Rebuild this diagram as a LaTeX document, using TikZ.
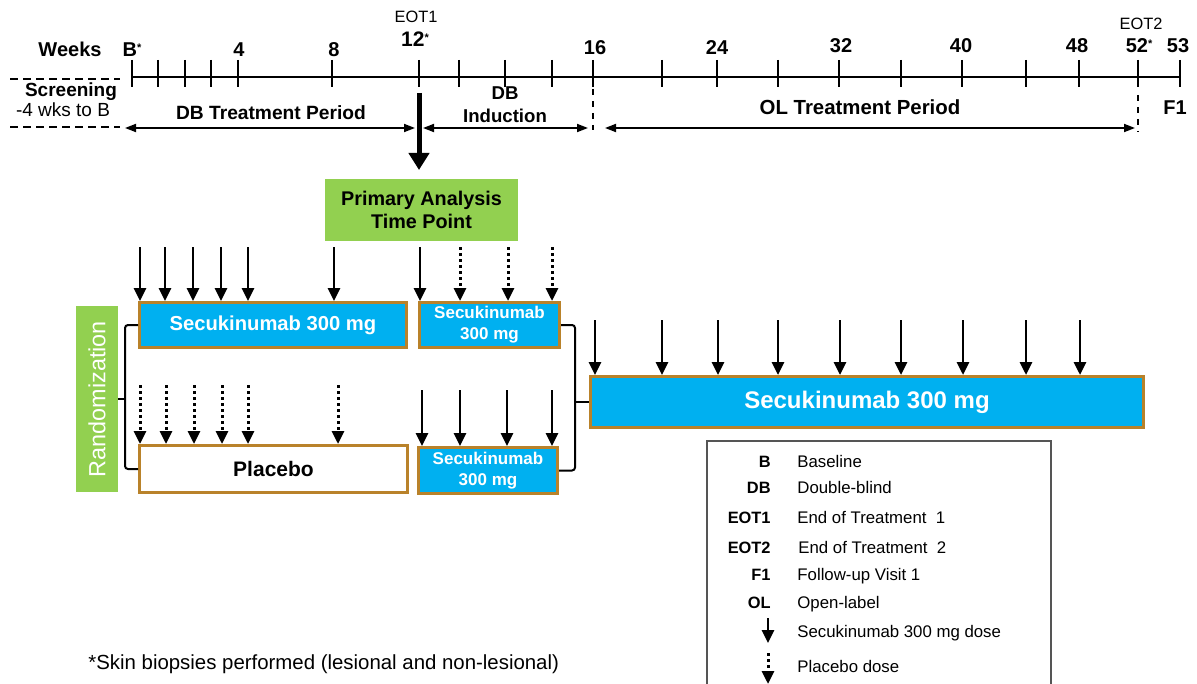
\documentclass[tikz,border=0pt]{standalone}
\usepackage{fontspec}
\setmainfont{Liberation Sans}
\usetikzlibrary{arrows.meta}
\definecolor{skblue}{HTML}{00B0F0}
\definecolor{brd}{HTML}{B9822A}
\definecolor{grn}{HTML}{92D050}
\definecolor{lgray}{HTML}{555555}
\newcommand{\sast}{\raisebox{0.25em}{\fontsize{5.5}{6}\selectfont *}}
\begin{document}
\begin{tikzpicture}[x=0.5pt,y=-0.5pt,
  lbl/.style={inner sep=0pt, anchor=base, font=\fontsize{10}{12}\selectfont\bfseries},
  eot/.style={inner sep=0pt, anchor=base, font=\fontsize{8.2}{9}\selectfont},
  box/.style={draw=brd, line width=1.5pt, inner sep=0pt, align=center},
  dose/.style={line width=1.4pt, -{Triangle[width=6pt,length=6.5pt]}},
  pdose/.style={line width=1.5pt, dash pattern=on 1.5pt off 1.5pt, -{Triangle[width=6pt,length=6.5pt]}},
  per/.style={line width=0.9pt, {Triangle[width=4pt,length=5.5pt]}-{Triangle[width=4pt,length=5.5pt]}},
  vdash/.style={line width=0.8pt, dash pattern=on 3pt off 3pt},
  scrdash/.style={line width=1pt, dash pattern=on 4pt off 2.5pt},
  br/.style={line width=1pt, rounded corners=1.5pt},
  legabbr/.style={inner sep=0pt, anchor=base east, font=\fontsize{8.2}{10}\selectfont\bfseries},
  legtxt/.style={inner sep=0pt, anchor=base west, font=\fontsize{8.4}{10}\selectfont},
  ]
\useasboundingbox (0,0) rectangle (1197,684);

% ---------- timeline ----------
\coordinate (t0) at (132,77);
\coordinate (t1) at (1180,77);
\draw[line width=1pt] (t0) -- (t1);
\foreach \x in {132,158,185,211,238,332,419,459,505,552,593,662,717,778,839,901,962,1026,1079,1138,1180}
  \draw[line width=1pt] (\x,60) -- (\x,87);

\node[lbl] (wk) at (70,57) {Weeks};
\node[lbl] (lB) at (132,57) {B\sast};
\node[lbl] (l4) at (239,57) {4};
\node[lbl] (l8) at (334,57) {8};
\node[lbl, font=\fontsize{10.5}{12}\selectfont\bfseries] (l12) at (415,47) {12\sast};
\node[eot] (eot1) at (416,23) {EOT1};
\node[lbl] (l16) at (595,55) {16};
\node[lbl] (l24) at (717,55) {24};
\node[lbl] (l32) at (841,53) {32};
\node[lbl] (l40) at (961,53) {40};
\node[lbl] (l48) at (1077,53) {48};
\node[lbl] (l52) at (1139,53) {52\sast};
\node[lbl] (l53) at (1178,53) {53};
\node[eot] (eot2) at (1141,30) {EOT2};

% ---------- screening ----------
\coordinate (s1a) at (10,79);  \coordinate (s1b) at (120,79);
\coordinate (s2a) at (10,127); \coordinate (s2b) at (120,127);
\draw[scrdash] (s1a) -- (s1b);
\draw[scrdash] (s2a) -- (s2b);
\node[inner sep=0pt, anchor=base, font=\fontsize{9.5}{11}\selectfont\bfseries] (scr) at (71,97) {Screening};
\node[inner sep=0pt, anchor=base, font=\fontsize{9.5}{11}\selectfont] (scr2) at (63,117) {-4 wks to B};

% ---------- periods ----------
\coordinate (p1a) at (125,128); \coordinate (p1b) at (415,128);
\coordinate (p2a) at (423,128); \coordinate (p2b) at (588,128);
\coordinate (p3a) at (605,128); \coordinate (p3b) at (1135,128);
\draw[per] (p1a) -- (p1b);
\draw[per] (p2a) -- (p2b);
\draw[per] (p3a) -- (p3b);
\node[lbl, font=\fontsize{9.6}{11}\selectfont\bfseries] (dbt) at (271,120) {DB Treatment Period};
\node[lbl, font=\fontsize{9.3}{11}\selectfont\bfseries] (dbi1) at (505,100) {DB};
\node[lbl, font=\fontsize{9.3}{11}\selectfont\bfseries] (dbi2) at (505,123) {Induction};
\node[lbl, font=\fontsize{10.2}{12}\selectfont\bfseries] (olt) at (860,115) {OL Treatment Period};
\node[lbl] (f1) at (1175,115) {F1};
\coordinate (v1a) at (593,89);  \coordinate (v1b) at (593,130);
\coordinate (v2a) at (1138,95); \coordinate (v2b) at (1138,132);
\draw[vdash] (v1a) -- (v1b);
\draw[vdash] (v2a) -- (v2b);

% ---------- primary analysis ----------
\node[fill=grn, inner sep=0pt, minimum width=96.5pt, minimum height=31pt, align=center,
      font=\fontsize{9.9}{11.5}\selectfont\bfseries] (prim) at (421.5,210) {Primary Analysis\\Time Point};
\coordinate (ta) at (419,93);
\coordinate (tatip) at (419,170);
\draw[line width=2.5pt, -{Triangle[width=10pt,length=8.5pt]}] (ta) -- (tatip);

% ---------- boxes ----------
\node[box, fill=skblue, text=white, minimum width=133.5pt, minimum height=22.5pt,
      font=\fontsize{10.1}{12}\selectfont\bfseries] (sk1) at (273,325) {Secukinumab 300 mg};
\node[box, fill=skblue, text=white, minimum width=70pt, minimum height=22.5pt,
      font=\fontsize{8.5}{10.5}\selectfont\bfseries] (sk2) at (489.5,325) {Secukinumab\\300 mg};
\node[box, fill=white, minimum width=134pt, minimum height=23.5pt,
      font=\fontsize{10.5}{12}\selectfont\bfseries] (pl) at (273.5,469) {Placebo};
\node[box, fill=skblue, text=white, minimum width=69.5pt, minimum height=23pt,
      font=\fontsize{8.5}{10.5}\selectfont\bfseries] (sk3) at (488,470.5) {Secukinumab\\300 mg};
\node[box, fill=skblue, text=white, minimum width=276.5pt, minimum height=25.5pt,
      font=\fontsize{12}{13}\selectfont\bfseries] (ol) at (867,402) {Secukinumab 300 mg};
\node[fill=grn, text=white, rotate=90, inner sep=0pt, minimum width=93pt, minimum height=21pt,
      font=\fontsize{11.7}{13}\selectfont] (rand) at (97,399) {Randomization};

% ---------- brackets ----------
\coordinate (lb) at (125,397);
\draw[br] (sk1.west) -| (lb) |- (pl.west);
\draw[line width=1pt] (rand.south) -- (rand.south -| lb);
\coordinate (rb) at (575,402);
\draw[br] (sk2.east) -| (rb) |- (sk3.east);
\draw[line width=1pt] (rb) -- (ol.west);

% ---------- dose arrows ----------
\foreach \x in {140,165,193,221,248,334}
  \draw[dose] (\x,247) -- (\x,0 |- sk1.north);
\draw[dose] (420,247) -- (420,0 |- sk2.north);
\foreach \x in {460,508,552}
  \draw[pdose] (\x,247) -- (\x,0 |- sk2.north);
\foreach \x in {140,166,194,222,248,338}
  \draw[pdose] (\x,385) -- (\x,0 |- pl.north);
\foreach \x in {422,460,507,552}
  \draw[dose] (\x,390) -- (\x,0 |- sk3.north);
\foreach \x in {595,662,718,778,840,901,963,1026,1080}
  \draw[dose] (\x,320) -- (\x,0 |- ol.north);

% ---------- legend ----------
\coordinate (lg1) at (707,700); \coordinate (lg2) at (707,441);
\coordinate (lg3) at (1051,441); \coordinate (lg4) at (1051,700);
\draw[lgray, line width=0.8pt] (lg1) -- (lg2) -- (lg3) -- (lg4);
\node[legabbr] (a1) at (771,467) {B};    \node[legtxt] (b1) at (797,467) {Baseline};
\node[legabbr] (a2) at (771,493) {DB};   \node[legtxt] (b2) at (797,493) {Double-blind};
\node[legabbr] (a3) at (771,523) {EOT1}; \node[legtxt] (b3) at (797,523) {End of Treatment\ \ 1};
\node[legabbr] (a4) at (771,553) {EOT2}; \node[legtxt] (b4) at (798,553) {End of Treatment\ \ 2};
\node[legabbr] (a5) at (771,580) {F1};   \node[legtxt] (b5) at (797,580) {Follow-up\ Visit 1};
\node[legabbr] (a6) at (771,608) {OL};   \node[legtxt] (b6) at (797,608) {Open-label};
\coordinate (la1) at (768,618); \coordinate (la2) at (768,643);
\draw[dose] (la1) -- (la2);
\node[legtxt] (b7) at (797,637) {Secukinumab 300 mg dose};
\coordinate (la3) at (768,653); \coordinate (la4) at (768,684);
\draw[pdose] (la3) -- (la4);
\node[legtxt] (b8) at (797,672) {Placebo dose};

% ---------- footnote ----------
\node[inner sep=0pt, anchor=base west, font=\fontsize{10.2}{12}\selectfont] (fn) at (88,669)
  {*Skin biopsies performed (lesional and non-lesional)};
\end{tikzpicture}
\end{document}
